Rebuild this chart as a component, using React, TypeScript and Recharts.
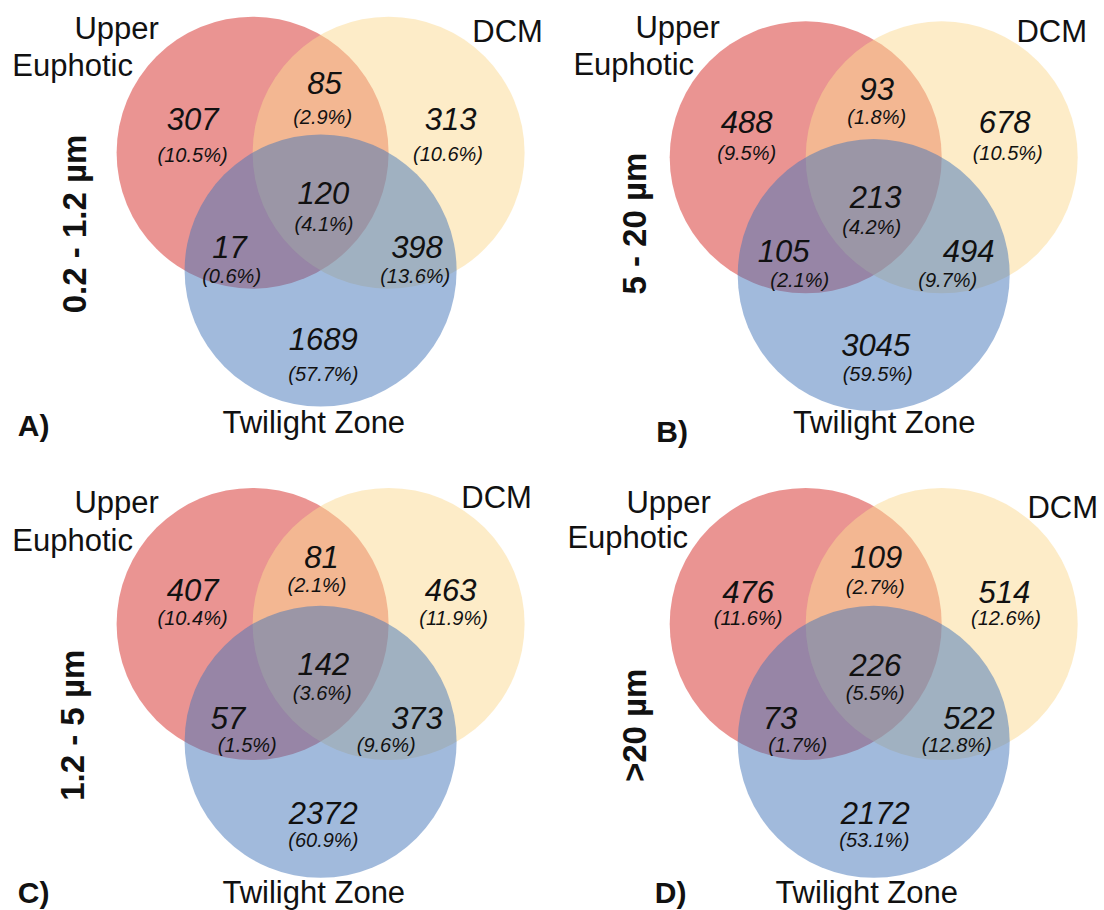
import React from 'react';
import { ScatterChart, Scatter, XAxis, YAxis, ZAxis } from 'recharts';

// ---------- data ----------
const setLabels = ['Upper', 'Euphotic', 'DCM', 'Twilight Zone'];
const sizeFractions = ['0.2 - 1.2 µm', '5 - 20 µm', '1.2 - 5 µm', '>20 µm'];
const panelLetters = ['A)', 'B)', 'C)', 'D)'];
// region order: UE only, UE∩DCM, DCM only, all three, UE∩TZ, DCM∩TZ, TZ only
const countsA = [307, 85, 313, 120, 17, 398, 1689];
const pctsA = ['10.5%', '2.9%', '10.6%', '4.1%', '0.6%', '13.6%', '57.7%'];
const countsB = [488, 93, 678, 213, 105, 494, 3045];
const pctsB = ['9.5%', '1.8%', '10.5%', '4.2%', '2.1%', '9.7%', '59.5%'];
const countsC = [407, 81, 463, 142, 57, 373, 2372];
const pctsC = ['10.4%', '2.1%', '11.9%', '3.6%', '1.5%', '9.6%', '60.9%'];
const countsD = [476, 109, 514, 226, 73, 522, 2172];
const pctsD = ['11.6%', '2.7%', '12.6%', '5.5%', '1.7%', '12.8%', '53.1%'];

const allCounts = [countsA, countsB, countsC, countsD];
const allPcts = [pctsA, pctsB, pctsC, pctsD];

// ---------- layout (layout units relative to diagram centroid) ----------
const R = 136;
const CIRCLE_OFFSETS: [number, number][] = [[-68, -39.3], [68, -39.3], [0, 78.5]];
const CIRCLE_COLORS = ['#D62A26', '#FBD991', '#4375B9'];
const PANEL_W = 552;
const PANEL_H = 455;

type P = [number, number];
interface PanelLayout {
  left: number; top: number; cx: number; cy: number;
  num: P[]; pct: P[]; set: P[]; letter: P; title: P;
}

const LAYOUTS: PanelLayout[] = [
  {
    left: 0, top: 0, cx: 320.6, cy: 192,
    num: [[-128, -73], [3.8, -109], [130, -73], [2.7, 1], [-91, 55], [96.4, 55], [2.7, 147]],
    pct: [[-128, -37], [2, -75], [127.4, -38], [3.4, 32], [-89, 84], [94.6, 84], [2.7, 182]],
    set: [[-204, -164], [-248, -127], [187, -161], [-6.8, 230]],
    letter: [-287, 233], title: [-246, 32],
  },
  {
    left: 552, top: 0, cx: 321.7, cy: 196.6,
    num: [[-127, -74], [3, -107], [131, -74], [2, 1], [-90, 55], [95, 55], [2, 149]],
    pct: [[-127, -44], [3, -80], [134, -44], [-2, 30], [-74, 83], [74, 83], [4, 177]],
    set: [[-196, -169], [-240, -132], [178, -165], [10.5, 226]],
    letter: [-201.6, 235], title: [-239, 27],
  },
  {
    left: 0, top: 455, cx: 320.6, cy: 208.3,
    num: [[-128, -73], [1, -106], [130, -73], [2.7, 1], [-92.6, 55], [96.4, 55], [2.7, 150]],
    pct: [[-128, -45], [-3.6, -78], [133, -45], [1.7, 30], [-73.3, 82], [65.6, 82], [2.7, 177]],
    set: [[-204, -161], [-248, -123], [176, -166], [-6.8, 229]],
    letter: [-287, 229], title: [-248, 62],
  },
  {
    left: 552, top: 455, cx: 321.7, cy: 208.3,
    num: [[-125.6, -71], [2.7, -106], [130.6, -71], [1.6, 2], [-93.7, 55], [95.3, 55], [1.6, 150]],
    pct: [[-125.6, -45], [1.6, -76], [132.3, -45], [1.6, 30], [-76, 82], [83, 82], [0.6, 177]],
    set: [[-205, -161], [-246, -126], [189, -156], [-7, 229]],
    letter: [-203, 229], title: [-239, 62],
  },
];

const FONT = '"Liberation Sans", Arial, Helvetica, sans-serif';
const STYLES: Record<string, { size: number; italic?: boolean; bold?: boolean }> = {
  num: { size: 31, italic: true },
  pct: { size: 20, italic: true },
  set: { size: 31 },
  letter: { size: 30, bold: true },
  title: { size: 33, bold: true },
};

const CircleShape = (p: any) => {
  const r = p.width ? p.width / 2 : R;
  return (
    <circle cx={p.cx} cy={p.cy} r={r} fill={p.payload.color} fillOpacity={0.5} stroke="none" />
  );
};

const TextShape = (p: any) => {
  const d = p.payload;
  const st = STYLES[d.kind];
  return (
    <text
      x={p.cx}
      y={p.cy}
      textAnchor="middle"
      dominantBaseline="central"
      fontFamily={FONT}
      fontSize={st.size}
      fontStyle={st.italic ? 'italic' : 'normal'}
      fontWeight={st.bold ? 'bold' : 'normal'}
      fill="#111"
      transform={d.kind === 'title' ? `rotate(-90 ${p.cx} ${p.cy})` : undefined}
    >
      {d.text}
    </text>
  );
};

function Panel({ idx }: { idx: number }) {
  const L = LAYOUTS[idx];
  const counts = allCounts[idx];
  const pcts = allPcts[idx];
  const circles = CIRCLE_OFFSETS.map((o, i) => ({ x: o[0], y: o[1], z: R, color: CIRCLE_COLORS[i] }));
  const labels: any[] = [];
  counts.forEach((c, i) => {
    labels.push({ x: L.num[i][0], y: L.num[i][1], text: String(c), kind: 'num' });
    labels.push({ x: L.pct[i][0], y: L.pct[i][1], text: `(${pcts[i]})`, kind: 'pct' });
  });
  setLabels.forEach((s, i) => labels.push({ x: L.set[i][0], y: L.set[i][1], text: s, kind: 'set' }));
  labels.push({ x: L.letter[0], y: L.letter[1], text: panelLetters[idx], kind: 'letter' });
  labels.push({ x: L.title[0], y: L.title[1], text: sizeFractions[idx], kind: 'title' });

  return (
    <div style={{ position: 'absolute', left: L.left, top: L.top, width: PANEL_W, height: PANEL_H }}>
      <ScatterChart width={PANEL_W} height={PANEL_H} margin={{ top: 0, right: 0, bottom: 0, left: 0 }}>
        <XAxis type="number" dataKey="x" domain={[-L.cx, PANEL_W - L.cx]} hide />
        <YAxis type="number" dataKey="y" domain={[-L.cy, PANEL_H - L.cy]} reversed hide />
        <ZAxis type="number" dataKey="z" domain={[0, R]} range={[0, Math.PI * R * R]} />
        <Scatter data={circles} shape={CircleShape} isAnimationActive={false} />
        <Scatter data={labels} shape={TextShape} isAnimationActive={false} />
      </ScatterChart>
    </div>
  );
}

export default function App() {
  return (
    <div style={{ position: 'absolute', left: 0, top: 0, width: 1104, height: 910, background: '#fff', overflow: 'hidden' }}>
      {[0, 1, 2, 3].map((i) => (
        <Panel key={i} idx={i} />
      ))}
    </div>
  );
}
